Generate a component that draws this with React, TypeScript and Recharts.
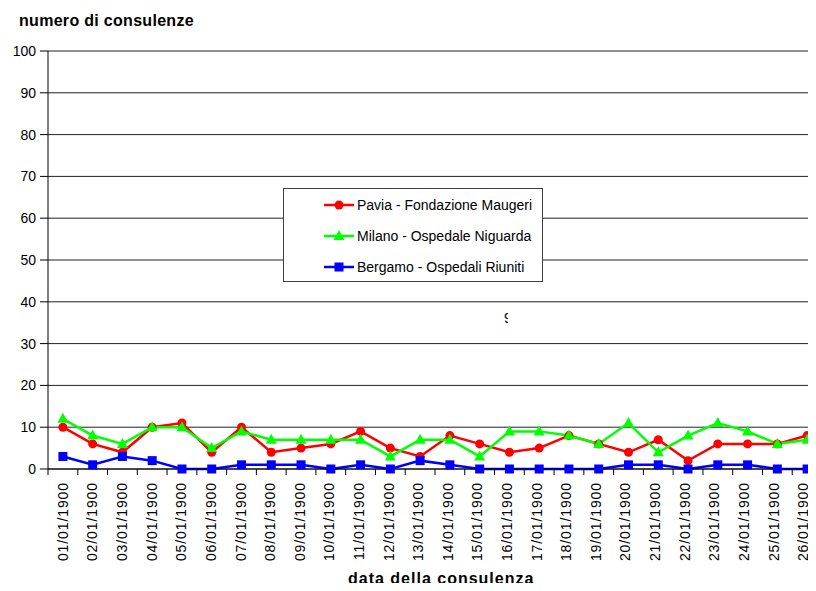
import { LineChart, Line, XAxis, YAxis, CartesianGrid, Legend } from "recharts";

const dates = [
  "01/01/1900", "02/01/1900", "03/01/1900", "04/01/1900", "05/01/1900", "06/01/1900",
  "07/01/1900", "08/01/1900", "09/01/1900", "10/01/1900", "11/01/1900", "12/01/1900",
  "13/01/1900", "14/01/1900", "15/01/1900", "16/01/1900", "17/01/1900", "18/01/1900",
  "19/01/1900", "20/01/1900", "21/01/1900", "22/01/1900", "23/01/1900", "24/01/1900",
  "25/01/1900", "26/01/1900",
];

const pavia = [10, 6, 4, 10, 11, 4, 10, 4, 5, 6, 9, 5, 3, 8, 6, 4, 5, 8, 6, 4, 7, 2, 6, 6, 6, 8];
const milano = [12, 8, 6, 10, 10, 5, 9, 7, 7, 7, 7, 3, 7, 7, 3, 9, 9, 8, 6, 11, 4, 8, 11, 9, 6, 7];
const bergamo = [3, 1, 3, 2, 0, 0, 1, 1, 1, 0, 1, 0, 2, 1, 0, 0, 0, 0, 0, 1, 1, 0, 1, 1, 0, 0];

const yTicks = [0, 10, 20, 30, 40, 50, 60, 70, 80, 90, 100];

const series = [
  { key: "pavia", name: "Pavia - Fondazione Maugeri", color: "#ff0000", shape: "circle" },
  { key: "milano", name: "Milano - Ospedale Niguarda", color: "#00ff00", shape: "triangle" },
  { key: "bergamo", name: "Bergamo - Ospedali Riuniti", color: "#0000ff", shape: "square" },
];

const data = dates.map((d, i) => ({
  date: d,
  pavia: pavia[i],
  milano: milano[i],
  bergamo: bergamo[i],
}));

const FONT = "'Liberation Sans', Arial, sans-serif";
const BAND = 774 / dates.length;

function marker(shape: string, color: string, cx: number, cy: number, key?: string) {
  if (shape === "circle") return <circle key={key} cx={cx} cy={cy} r={4.5} fill={color} />;
  if (shape === "triangle")
    return (
      <polygon
        key={key}
        points={`${cx},${cy - 6} ${cx - 5.5},${cy + 4} ${cx + 5.5},${cy + 4}`}
        fill={color}
      />
    );
  return <rect key={key} x={cx - 4.5} y={cy - 4.5} width={9} height={9} fill={color} />;
}

const makeDot = (shape: string, color: string) => (p: any) =>
  marker(shape, color, p.cx, p.cy, `${shape}-${p.index}`);

const XTick = (p: any) => {
  const last = p.index === dates.length - 1;
  // labels drift a little to the left of the points towards the right end
  const tx = p.x + 5 - p.index * 0.16;
  return (
    <g>
      <line x1={p.x - BAND / 2} x2={p.x - BAND / 2} y1={469} y2={475} stroke="#000" />
      {last && <line x1={p.x + BAND / 2} x2={p.x + BAND / 2} y1={469} y2={475} stroke="#000" />}
      <text
        x={tx}
        y={482}
        transform={`rotate(-90, ${tx}, 482)`}
        textAnchor="end"
        fontSize={14}
        letterSpacing={0.9}
        fontFamily={FONT}
        fill="#000"
      >
        {p.payload.value}
      </text>
    </g>
  );
};

const LegendBox = () => (
  <div
    style={{
      width: 260,
      height: 94,
      border: "1px solid #404040",
      boxSizing: "border-box",
      background: "#fff",
    }}
  >
    <svg width={258} height={92}>
      {series.map((s, i) => {
        const y = 16 + i * 31;
        return (
          <g key={s.key}>
            <line x1={40} x2={70} y1={y} y2={y} stroke={s.color} strokeWidth={2.5} />
            {marker(s.shape, s.color, 55, y)}
            <text x={73} y={y + 5} fontSize={14} fontFamily={FONT} fill="#000">
              {s.name}
            </text>
          </g>
        );
      })}
    </svg>
  </div>
);

export default function App() {
  return (
    <div
      style={{
        position: "relative",
        width: 816,
        height: 591,
        margin: -8,
        overflow: "hidden",
        background: "#fff",
        fontFamily: FONT,
      }}
    >
      <LineChart
        width={830}
        height={591}
        data={data}
        margin={{ top: 51, right: 8, bottom: 0, left: 0 }}
      >
        <CartesianGrid vertical={false} stroke="#222" />
        <XAxis
          dataKey="date"
          interval={0}
          padding={{ left: BAND / 2, right: BAND / 2 }}
          tickLine={false}
          axisLine={{ stroke: "#000" }}
          tick={<XTick />}
          height={122}
        />
        <YAxis
          domain={[0, 100]}
          ticks={yTicks}
          interval={0}
          width={48}
          tickSize={8}
          tickMargin={4}
          axisLine={{ stroke: "#000" }}
          tickLine={{ stroke: "#000" }}
          tick={{ fontSize: 14, fill: "#000", fontFamily: FONT }}
        />
        <Legend
          layout="vertical"
          align="center"
          verticalAlign="middle"
          content={<LegendBox />}
          wrapperStyle={{ left: 283, top: 188, width: 260, height: 94, bottom: "auto" }}
        />
        {series.map((s) => (
          <Line
            key={s.key}
            type="linear"
            dataKey={s.key}
            name={s.name}
            stroke={s.color}
            strokeWidth={2.5}
            dot={makeDot(s.shape, s.color)}
            activeDot={false}
            isAnimationActive={false}
          />
        ))}
      </LineChart>
      <svg
        width={816}
        height={591}
        style={{ position: "absolute", left: 0, top: 0, pointerEvents: "none" }}
      >
        <text x={19} y={26} fontSize={16} fontWeight="bold" letterSpacing={0.3} fontFamily={FONT}>
          numero di consulenze
        </text>
        <text x={348} y={584} fontSize={16} fontWeight="bold" letterSpacing={1} fontFamily={FONT}>
          data della consulenza
        </text>
      </svg>
      <div
        style={{
          position: "absolute",
          left: 504,
          top: 310,
          width: 4,
          height: 16,
          overflow: "hidden",
          fontSize: 14,
        }}
      >
        9
      </div>
    </div>
  );
}
